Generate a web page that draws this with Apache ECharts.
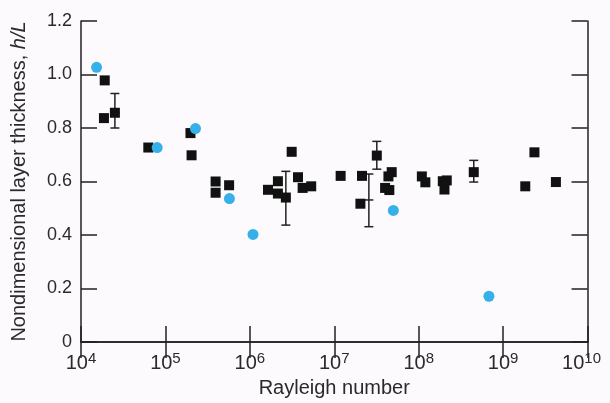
<!DOCTYPE html>
<html>
<head>
<meta charset="utf-8">
<script src="https://cdn.jsdelivr.net/npm/echarts@6/dist/echarts.min.js"></script>
<style>
  html, body { margin: 0; padding: 0; background: #fcfafd; }
  #chart { width: 610px; height: 403px; }
</style>
</head>
<body>
<div id="chart"></div>
<script>
// black squares: Rayleigh number, h/L
const squareRa = [1.91e4, 1.87e4, 2.52e4, 6.27e4, 1.98e5, 2.04e5, 3.93e5, 3.93e5, 5.68e5,
  1.64e6, 2.15e6, 2.15e6, 2.67e6, 3.13e6, 3.72e6, 4.22e6, 5.33e6,
  1.19e7, 2.13e7, 2.04e7, 3.19e7, 4.38e7, 4.79e7, 4.0e7, 4.49e7,
  1.09e8, 1.20e8, 1.93e8, 2.15e8, 2.02e8, 4.49e8,
  1.83e9, 2.35e9, 4.22e9];
const squareH = [0.978, 0.837, 0.857, 0.727, 0.781, 0.698, 0.600, 0.558, 0.586,
  0.569, 0.601, 0.555, 0.540, 0.711, 0.616, 0.576, 0.582,
  0.621, 0.621, 0.517, 0.697, 0.619, 0.635, 0.576, 0.568,
  0.619, 0.597, 0.601, 0.604, 0.570, 0.635,
  0.582, 0.709, 0.598];

// blue circles
const circleRa = [1.53e4, 7.98e4, 2.27e5, 5.73e5, 1.09e6, 5.01e7, 6.79e8];
const circleH = [1.027, 0.727, 0.798, 0.536, 0.402, 0.492, 0.171];

// error bars
const errRa = [2.52e4, 2.67e6, 2.57e7, 3.19e7, 4.49e8];
const errLow = [0.800, 0.437, 0.431, 0.646, 0.598];
const errMid = [0.857, 0.540, 0.531, 0.697, 0.635];
const errHigh = [0.929, 0.638, 0.628, 0.750, 0.679];

const xMin = 1e4, xMax = 1e10;

const axisColor = '#222';
const textColor = '#2a2a2a';
const font = '"Liberation Sans", Arial, sans-serif';

const chart = echarts.init(document.getElementById('chart'));

// 10 with a superscript exponent; the last one is nudged left so it stays on the page
const xLabel = v => {
  const e = Math.round(Math.log10(v));
  return '{b|10}{s|' + e + '}' + (e === 10 ? '{p|}' : '');
};

const commonTick = { show: true, inside: true, length: 16, lineStyle: { color: axisColor, width: 1.5 } };
const commonLine = { show: true, lineStyle: { color: axisColor, width: 1.5 } };

chart.setOption({
  backgroundColor: '#fcfafd',
  animation: false,
  grid: { left: 81, right: 17, top: 21, bottom: 57 },
  xAxis: [
    {
      type: 'log', logBase: 10, min: xMin, max: xMax, interval: 1,
      axisLine: commonLine, axisTick: commonTick,
      splitLine: { show: false }, minorTick: { show: false },
      axisLabel: {
        margin: 9, formatter: xLabel, showMaxLabel: true, showMinLabel: true,
        rich: {
          b: { fontFamily: font, fontSize: 20, color: textColor, lineHeight: 24 },
          s: { fontFamily: font, fontSize: 15, color: textColor, verticalAlign: 'top', lineHeight: 15 },
          p: { width: 12 }
        }
      },
      name: 'Rayleigh number', nameLocation: 'middle', nameGap: 36,
      nameTextStyle: { fontFamily: font, fontSize: 20, color: textColor }
    },
    {
      type: 'log', logBase: 10, min: xMin, max: xMax, interval: 1, position: 'top',
      axisLine: commonLine, axisTick: commonTick,
      axisLabel: { show: false }, splitLine: { show: false }
    }
  ],
  yAxis: [
    {
      type: 'value', min: 0, max: 1.2, interval: 0.2,
      axisLine: commonLine, axisTick: commonTick, splitLine: { show: false },
      axisLabel: {
        margin: 9, fontFamily: font, fontSize: 18, color: textColor,
        formatter: v => (v === 0 ? '0' : v.toFixed(1))
      },
      name: '{n|Nondimensional layer thickness, }{i|h/L}',
      nameLocation: 'middle', nameRotate: 90, nameGap: 52,
      nameTextStyle: {
        rich: {
          n: { fontFamily: font, fontSize: 20, color: textColor },
          i: { fontFamily: font, fontSize: 20, color: textColor, fontStyle: 'italic' }
        }
      }
    },
    {
      type: 'value', min: 0, max: 1.2, interval: 0.2, position: 'right',
      axisLine: commonLine, axisTick: commonTick,
      axisLabel: { show: false }, splitLine: { show: false }
    }
  ],
  series: [
    {
      type: 'custom',
      xAxisIndex: 0, yAxisIndex: 0,
      data: errRa.map((r, i) => [r, errLow[i], errMid[i], errHigh[i]]),
      renderItem: (params, api) => {
        const lo = api.coord([api.value(0), api.value(1)]);
        const mid = api.coord([api.value(0), api.value(2)]);
        const hi = api.coord([api.value(0), api.value(3)]);
        const w = 4.5;
        const style = { stroke: '#222', lineWidth: 1.5 };
        return {
          type: 'group',
          children: [
            { type: 'line', shape: { x1: lo[0], y1: lo[1], x2: hi[0], y2: hi[1] }, style },
            { type: 'line', shape: { x1: lo[0] - w, y1: lo[1], x2: lo[0] + w, y2: lo[1] }, style },
            { type: 'line', shape: { x1: hi[0] - w, y1: hi[1], x2: hi[0] + w, y2: hi[1] }, style },
            { type: 'line', shape: { x1: mid[0] - w, y1: mid[1], x2: mid[0] + w, y2: mid[1] }, style }
          ]
        };
      },
      z: 2
    },
    {
      type: 'scatter',
      data: squareRa.map((r, i) => [r, squareH[i]]),
      symbol: 'rect', symbolSize: 10,
      itemStyle: { color: '#111', opacity: 1 },
      z: 3
    },
    {
      type: 'scatter',
      data: circleRa.map((r, i) => [r, circleH[i]]),
      symbol: 'circle', symbolSize: 11,
      itemStyle: { color: '#36b0e8', opacity: 1 },
      z: 4
    }
  ]
});
</script>
</body>
</html>
